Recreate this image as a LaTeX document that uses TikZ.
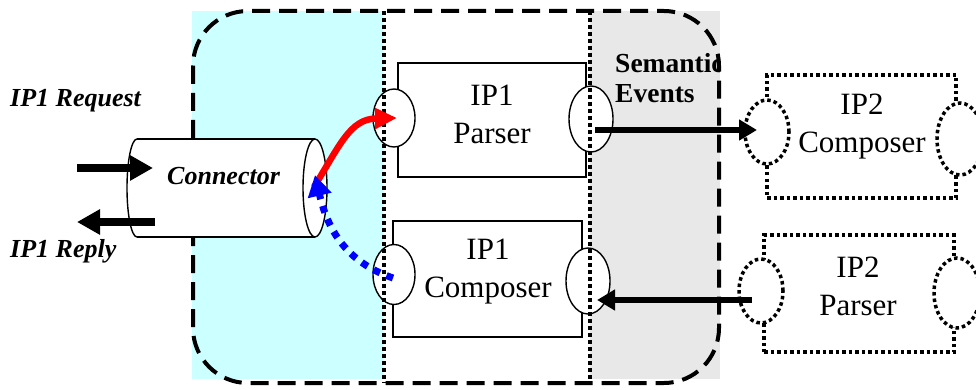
\documentclass[tikz,border=0pt]{standalone}
\usepackage{fontspec}
\setmainfont{Liberation Serif}
\usetikzlibrary{shapes.geometric,arrows.meta}
\definecolor{cyanbg}{RGB}{204,255,255}
\definecolor{graybg}{RGB}{232,232,232}
\definecolor{arrred}{RGB}{255,0,0}
\definecolor{arrblue}{RGB}{0,0,255}
\begin{document}
\begin{tikzpicture}[x=1pt,y=-1pt,
  box/.style={draw,line width=1.4pt,fill=white,inner sep=0pt},
  port/.style={draw,ellipse,line width=1.4pt,fill=white,inner sep=0pt},
  dbox/.style={draw,line width=3.5pt,dash pattern=on 3.5pt off 3pt,fill=white,inner sep=0pt},
  dport/.style={dbox,ellipse},
  lbl/.style={font=\fontsize{31}{38}\selectfont,align=center,inner sep=0pt},
  itlbl/.style={font=\fontsize{26}{30}\selectfont\bfseries\itshape,inner sep=0pt,anchor=base west},
  fat/.style={line width=8pt,-{Triangle[length=23pt,width=24pt]}},
  midarr/.style={line width=5.5pt,-{Triangle[length=18pt,width=20pt]}},
  sepline/.style={line width=4pt,dash pattern=on 4pt off 3pt},
  frame/.style={line width=4pt,dash pattern=on 18pt off 9pt,rounded corners=55pt},
]
\clip (0,0) rectangle (976,390);
\useasboundingbox (0,0) rectangle (976,390);

% backgrounds
\fill[cyanbg] (192,11) rectangle (383,379);
\fill[graybg] (590,11) rectangle (720,379);

% dashed frame
\draw[frame] (193,11) rectangle (719,383);

% cylinder connector
\fill[white] (137,139) rectangle (315,237);
\draw[line width=1.4pt] (137,139) -- (315,139) (137,237) -- (315,237);
\draw[line width=1.4pt] (137,139) arc[start angle=270,end angle=90,x radius=10,y radius=49];
\node[port,minimum width=24pt,minimum height=98pt] (cap) at (315,188) {};

% IP1 boxes
\node[box,minimum width=188pt,minimum height=114pt] (pbox) at (492,120) {};
\node[box,minimum width=189pt,minimum height=116pt] (cbox) at (487.5,279) {};
\node[port,minimum width=42pt,minimum height=58pt] (pL) at (394,118) {};
\node[port,minimum width=44pt,minimum height=66pt] (pR) at (591,119) {};
\node[port,minimum width=42pt,minimum height=60pt] (cL) at (394,274.5) {};
\node[port,minimum width=44pt,minimum height=66pt] (cR) at (588,281) {};

% IP2 boxes
\node[dbox,minimum width=189pt,minimum height=123pt] (qbox) at (861.5,136.5) {};
\node[dbox,minimum width=190pt,minimum height=117pt] (rbox) at (859,293.5) {};
\node[dport,minimum width=44pt,minimum height=64pt] (qL) at (767,132) {};
\node[dport,minimum width=46pt,minimum height=72pt] (qR) at (960,139) {};
\node[dport,minimum width=44pt,minimum height=64pt] (rL) at (761,291) {};
\node[dport,minimum width=46pt,minimum height=70pt] (rR) at (957,293) {};

% dotted separators
\draw[sepline] (384,11) -- (384,383);
\draw[sepline] (590,11) -- (590,383);

% left arrows
\coordinate (rqS) at (77,168);
\coordinate (rqE) at (153,168);
\coordinate (rpS) at (155,222);
\coordinate (rpE) at (77,222);
\draw[fat] (rqS) -- (rqE);
\draw[fat] (rpS) -- (rpE);

% red and blue arrows
\draw[arrred,line width=6.5pt,-{Triangle[length=22pt,width=20pt]}]
  ([shift={(-1,-1)}]cap.center) .. controls (340,145) and (350,119) .. ([xshift=3]pL.center);
\draw[arrblue,line width=7pt,dash pattern=on 7pt off 7pt,-{Triangle[length=21pt,width=23pt]}]
  ([shift={(-1,3.5)}]cL.center) .. controls (355,265) and (330,240) .. ([yshift=13]cap.center);

% black arrows
\coordinate (s1) at (595,130);
\coordinate (e1) at (757,130);
\coordinate (s2) at (752,300);
\coordinate (e2) at (597,300);
\draw[midarr] (s1) -- (e1);
\draw[midarr] (s2) -- (e2);

% texts
\node[lbl] (tp) at (492,114) {IP1\\Parser};
\node[lbl] (tc) at (488,272) {IP1\\Composer};
\node[lbl] (t2c) at (862,127) {IP2\\Composer};
\node[lbl] (t2p) at (858,286) {IP2\\Parser};
\node[itlbl] (tcon) at (167,185) {Connector};
\node[itlbl] (treq) at (10,107) {IP1 Request};
\node[itlbl] (trep) at (10,257) {IP1 Reply};
\begin{scope}
\clip (600,0) rectangle (719,390);
\node[font=\fontsize{27.5}{30}\selectfont\bfseries,align=left,anchor=north west,inner sep=0pt] (sem) at (615,53) {Semantic\\Events};
\end{scope}
\end{tikzpicture}
\end{document}
